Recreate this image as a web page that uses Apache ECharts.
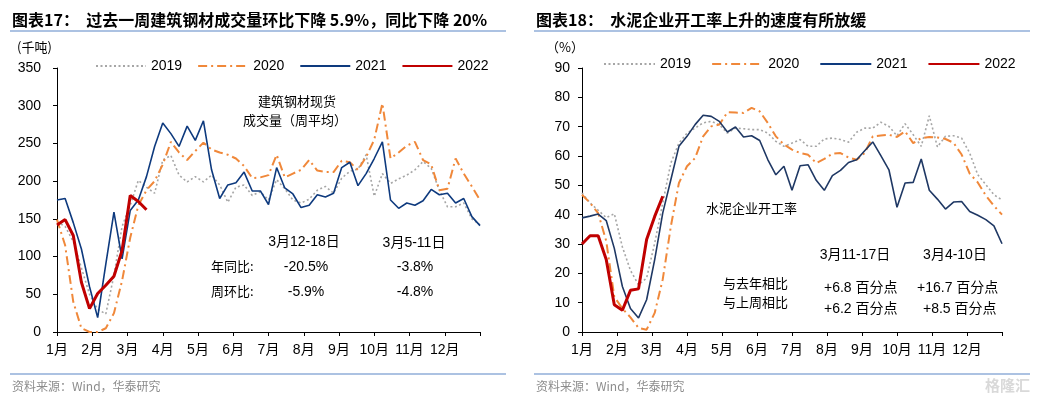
<!DOCTYPE html>
<html>
<head>
<meta charset="utf-8">
<script src="https://cdn.jsdelivr.net/npm/echarts@6/dist/echarts.min.js"></script>
<style>
  html, body { margin: 0; padding: 0; background: #fff; }
  #main { width: 1044px; height: 397px; }
</style>
</head>
<body>
<div id="main"></div>
<script>
// weekly readings, week 0 = first week of January
const WEEK = 12 / 52;
const monthTicks = ['1月', '2月', '3月', '4月', '5月', '6月', '7月', '8月', '9月', '10月', '11月', '12月'];

// 建筑钢材成交量 (千吨)
const steel2019 = [146,140,120,85,50,30,24,75,140,168,201,192,184,228,234,208,199,206,199,208,195,172,192,195,181,186,175,202,190,175,171,176,188,193,184,204,213,216,235,180,210,197,203,208,215,226,217,188,166,166,171,150,142];
const steel2020 = [149,115,40,5,0,0,5,25,68,125,168,188,200,222,252,238,228,240,251,242,238,235,230,220,204,205,208,235,205,210,215,228,214,212,212,227,225,215,232,255,303,230,238,247,252,228,222,188,190,230,210,193,175];
const steel2021 = [175,177,145,110,60,19,90,159,97,161,175,206,246,277,263,246,273,254,280,215,177,195,198,212,187,187,169,218,191,183,165,168,182,179,184,218,225,194,210,230,252,175,164,171,168,174,189,182,184,171,177,153,141];
const steel2022 = [142,149,128,66,31,51,62,74,108,181,173,162];

// 水泥企业开工率 (%)
const cement2019 = [47.4,44,41.5,39,40.3,29,21,16.1,18.4,30.3,44,57.6,64.4,67.8,69.5,71.3,71.8,70.7,67.8,69.5,69.3,69,69,67.8,65,63.3,64.4,65.6,63.3,63.3,65.8,66.1,65.6,64.7,68.1,69.5,69.5,71.5,70.1,66.9,71,67.3,63.3,73.7,63.1,66.7,66.9,66.1,61,53.6,50.2,46.8,45];
const cement2020 = [46.8,44,40.5,31,12,8,5,1.4,0.8,6.5,18,36,50.8,56.5,59.3,66.7,70.1,70.7,74.9,74.8,74.7,76.4,75.2,71.3,66.7,63.9,62.2,61,60.4,57.6,59,60.8,61,59.5,58.7,61,66.7,67,67.2,66.5,68.4,64.4,66.1,66.5,66.3,65.8,64.5,60.5,54,51,46.5,43,40];
const cement2021 = [38.9,39.5,40.2,38,28.5,15.5,8,4.8,11,24.7,40.6,51.9,63.3,66.7,70.7,73.9,73.5,71.8,68.2,69.9,66.5,66.9,65.3,58.8,53.6,56.5,48.3,56.7,57,51.7,48.3,53.3,55.1,57.8,58.7,61.8,64.8,60.1,55.3,42.5,50.8,51,59,48.3,45.3,41.9,44.3,44.5,41.1,39.8,38.3,36.2,30.1];
const cement2022 = [30,32.8,32.8,24.7,9.3,7.4,14.2,14.7,31.5,39.4,46.3];

const years = ['2019', '2020', '2021', '2022'];

const chart = echarts.init(document.getElementById('main'));

const latin = 'Liberation Sans, Arial, Noto Sans CJK SC, sans-serif';
const cjk = 'Noto Sans CJK SC, sans-serif';

function weekly(arr) {
  return arr.map((v, i) => [i * WEEK, v]);
}

function lineStyleFor(year, navy) {
  if (year === '2019') return { color: '#A6A6A6', width: 1.6, type: [2, 2.5] };
  if (year === '2020') return { color: '#F0883A', width: 2, type: [9, 4, 2, 4] };
  if (year === '2021') return { color: navy, width: 1.6, type: 'solid' };
  return { color: '#C00000', width: 3, type: 'solid' };
}

function makeSeries(axisIdx, lists, navy) {
  return years.map((y, k) => ({
    name: y,
    type: 'line',
    xAxisIndex: axisIdx,
    yAxisIndex: axisIdx,
    data: weekly(lists[k]),
    symbol: 'none',
    z: 2 + k,
    color: lineStyleFor(y, navy).color,
    lineStyle: lineStyleFor(y, navy)
  }));
}

function xAxisFor(gridIndex) {
  return {
    type: 'value', gridIndex: gridIndex, min: 0, max: 12, interval: 1,
    axisLine: { show: true, lineStyle: { color: '#000', width: 1 } },
    axisTick: { show: true, length: 4, lineStyle: { color: '#000' } },
    splitLine: { show: false },
    axisLabel: {
      margin: 11, color: '#000', fontSize: 14, fontFamily: latin,
      formatter: v => (v < 12 ? monthTicks[v] : '')
    }
  };
}

function yAxisFor(gridIndex, max, interval, margin) {
  return {
    type: 'value', gridIndex: gridIndex, min: 0, max: max, interval: interval,
    axisLine: { show: true, lineStyle: { color: '#000', width: 1 } },
    axisTick: { show: true, length: 4, lineStyle: { color: '#000' } },
    splitLine: { show: false },
    axisLabel: { margin: margin, color: '#000', fontSize: 14, fontFamily: latin }
  };
}

function txt(x, y, text, opts) {
  opts = opts || {};
  return {
    type: 'text', x: x, y: y, silent: true,
    style: {
      text: text,
      fill: opts.fill || '#000',
      font: opts.font || ('14px ' + latin),
      align: opts.align || 'left',
      verticalAlign: 'middle'
    }
  };
}

function rule(x1, x2, y) {
  return { type: 'line', silent: true, shape: { x1: x1, y1: y, x2: x2, y2: y }, style: { stroke: '#5B86C5', lineWidth: 1.2 } };
}

const titleFont = 'bold 16px ' + cjk;
const noteFont = '13px ' + cjk;

const legendBase = {
  itemHeight: 14,
  data: years,
  // hide the round marker, keep the line sample
  itemStyle: { opacity: 0 },
  textStyle: { fontSize: 14, fontFamily: latin, color: '#000' }
};

const option = {
  animation: false,
  backgroundColor: '#fff',
  grid: [
    { left: 57, top: 68, width: 423, height: 264 },
    { left: 582, top: 68, width: 420, height: 264 }
  ],
  xAxis: [xAxisFor(0), xAxisFor(1)],
  yAxis: [yAxisFor(0, 350, 50, 16), yAxisFor(1, 90, 10, 12)],
  legend: [
    Object.assign({ left: 90, top: 54, itemWidth: 50, itemGap: 15 }, legendBase),
    Object.assign({ left: 598, top: 52, itemWidth: 51, itemGap: 20 }, legendBase)
  ],
  series: [
    ...makeSeries(0, [steel2019, steel2020, steel2021, steel2022], '#0E3A7E'),
    ...makeSeries(1, [cement2019, cement2020, cement2021, cement2022], '#1F3864')
  ],
  graphic: [
    // titles and rules
    txt(12, 20, '图表17：  过去一周建筑钢材成交量环比下降 5.9%，同比下降 20%', { font: titleFont }),
    txt(536, 20, '图表18：  水泥企业开工率上升的速度有所放缓', { font: titleFont }),
    rule(10, 506, 31),
    rule(534, 1030, 31),
    rule(10, 506, 374),
    rule(534, 1030, 374),
    txt(12, 386, '资料来源：Wind，华泰研究', { font: '12px ' + cjk, fill: '#8C8C8C' }),
    txt(536, 386, '资料来源：Wind，华泰研究', { font: '12px ' + cjk, fill: '#8C8C8C' }),
    txt(1030, 385, '格隆汇', { font: 'bold 15px ' + cjk, fill: '#D9D9D9', align: 'right' }),
    // units
    txt(17, 47, '(千吨)', { font: '13px ' + cjk }),
    txt(546, 47, '（%）', { font: '13px ' + cjk }),
    // left notes
    txt(258, 101, '建筑钢材现货', { font: noteFont }),
    txt(243, 120, '成交量（周平均）', { font: noteFont }),
    txt(304, 242, '3月12-18日', { align: 'center' }),
    txt(414, 243, '3月5-11日', { align: 'center' }),
    txt(211, 266, '年同比:', { font: noteFont }),
    txt(211, 291, '周环比:', { font: noteFont }),
    txt(306, 267, '-20.5%', { align: 'center' }),
    txt(415, 267, '-3.8%', { align: 'center' }),
    txt(306, 292, '-5.9%', { align: 'center' }),
    txt(415, 292, '-4.8%', { align: 'center' }),
    // right notes
    txt(706, 208, '水泥企业开工率', { font: noteFont }),
    txt(855, 255, '3月11-17日', { align: 'center' }),
    txt(955, 255, '3月4-10日', { align: 'center' }),
    txt(723, 283, '与去年相比', { font: noteFont }),
    txt(723, 302, '与上周相比', { font: noteFont }),
    txt(824, 288, '+6.8 百分点'),
    txt(917, 288, '+16.7 百分点'),
    txt(824, 309, '+6.2 百分点'),
    txt(923, 309, '+8.5 百分点')
  ]
};

chart.setOption(option);
</script>
</body>
</html>
